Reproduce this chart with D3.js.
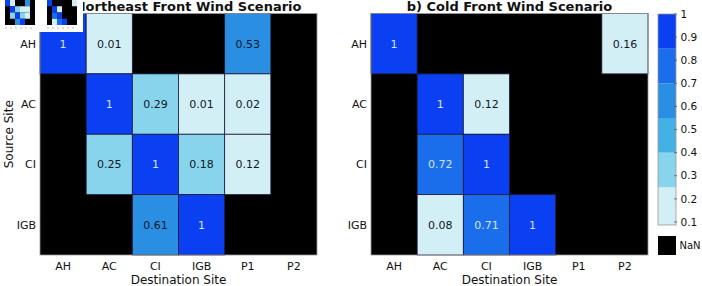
<!DOCTYPE html>
<html>
<head>
<meta charset="utf-8">
<script src="https://cdn.jsdelivr.net/npm/d3@7"></script>
<style>
  body { margin: 0; background: #fff; }
  svg { display: block; font-family: "DejaVu Sans", sans-serif; }
</style>
</head>
<body>
<svg width="702" height="286"></svg>
<script>
// destination sites (columns) and source sites (rows)
const destSites = ["AH", "AC", "CI", "IGB", "P1", "P2"];
const sourceSites = ["AH", "AC", "CI", "IGB"];

// a) Northeast front, null = NaN
const northeast = [
    [1, 0.01, null, null, 0.53, null],
    [null, 1, 0.29, 0.01, 0.02, null],
    [null, 0.25, 1, 0.18, 0.12, null],
    [null, null, 0.61, 1, null, null]
];

// b) Cold front
const coldFront = [
    [1, null, null, null, null, 0.16],
    [null, 1, 0.12, null, null, null],
    [null, 0.72, 1, null, null, null],
    [null, 0.08, 0.71, 1, null, null]
];

// colour bands
const bandColors = ["#d3eff6", "#88d4ed", "#44b1e4", "#2a8ee2", "#1a6deb", "#0b3ff2"];
const cellThresholds = [0.17, 0.4, 0.5, 0.7, 0.85];
const barEdges = [0.087, 0.25, 0.4, 0.55, 0.7, 0.85, 1];
const barTicks = [0.1, 0.2, 0.3, 0.4, 0.5, 0.6, 0.7, 0.8, 0.9, 1];

const svg = d3.select("svg");
const color = d3.scaleThreshold().domain(cellThresholds).range(bandColors);

const plotTop = 13.5, plotBottom = 255;
const y = d3.scaleBand().domain(sourceSites).range([plotTop, plotBottom]);

function drawPanel(data, x0, x1, title, showYLabel) {
    const x = d3.scaleBand().domain(destSites).range([x0, x1]);
    const g = svg.append("g");

    // black background = NaN
    g.append("rect")
        .attr("x", x0).attr("y", plotTop)
        .attr("width", x1 - x0).attr("height", plotBottom - plotTop)
        .attr("fill", "#000");

    const cells = [];
    data.forEach((row, i) => row.forEach((v, j) => {
        if (v !== null) cells.push({ src: sourceSites[i], dst: destSites[j], v: v });
    }));

    g.selectAll(".cell").data(cells).enter().append("rect")
        .attr("class", "cell")
        .attr("x", d => x(d.dst)).attr("y", d => y(d.src))
        .attr("width", x.bandwidth()).attr("height", y.bandwidth())
        .attr("fill", d => color(d.v))
        .attr("stroke", "#1c1c3a").attr("stroke-width", 0.8);

    g.selectAll(".val").data(cells).enter().append("text")
        .attr("x", d => x(d.dst) + x.bandwidth() / 2)
        .attr("y", d => y(d.src) + y.bandwidth() / 2)
        .attr("dy", "0.35em")
        .attr("text-anchor", "middle")
        .attr("font-size", 11)
        .attr("fill", d => d.v > 0.65 ? "#d4e2ff" : "#111827")
        .text(d => d.v);

    // frame
    g.append("rect")
        .attr("x", x0).attr("y", plotTop)
        .attr("width", x1 - x0).attr("height", plotBottom - plotTop)
        .attr("fill", "none").attr("stroke", "#999").attr("stroke-width", 0.8);

    // tick labels
    g.selectAll(".xt").data(destSites).enter().append("text")
        .attr("x", d => x(d) + x.bandwidth() / 2).attr("y", 266)
        .attr("dy", "0.35em").attr("text-anchor", "middle")
        .attr("font-size", 11).attr("fill", "#111").text(d => d);

    g.selectAll(".yt").data(sourceSites).enter().append("text")
        .attr("x", x0 - 4).attr("y", d => y(d) + y.bandwidth() / 2)
        .attr("dy", "0.35em").attr("text-anchor", "end")
        .attr("font-size", 11).attr("fill", "#111").text(d => d);

    g.append("text")
        .attr("x", (x0 + x1) / 2).attr("y", 280)
        .attr("dy", "0.35em").attr("text-anchor", "middle")
        .attr("font-size", 12).attr("fill", "#111").text("Destination Site");

    if (showYLabel) {
        g.append("text")
            .attr("transform", `translate(9, ${(plotTop + plotBottom) / 2}) rotate(-90)`)
            .attr("dy", "0.35em").attr("text-anchor", "middle")
            .attr("font-size", 12).attr("fill", "#111").text("Source Site");
    }

    g.append("text")
        .attr("x", (x0 + x1) / 2).attr("y", 11)
        .attr("text-anchor", "middle")
        .attr("font-size", 13).attr("font-weight", "bold")
        .attr("fill", "#111").text(title);
}

drawPanel(northeast, 40, 317, "a) Northeast Front Wind Scenario", true);
drawPanel(coldFront, 371, 648, "b) Cold Front Wind Scenario", false);

// colour bar
const cb = svg.append("g");
const cbX = 658, cbW = 18;
const cbY = d3.scaleLinear().domain([0.1, 1]).range([222, 14]);

const bands = d3.pairs(barEdges).map((p, i) => ({ lo: p[0], hi: p[1], c: bandColors[i] }));
cb.selectAll(".band").data(bands).enter().append("rect")
    .attr("x", cbX).attr("y", d => cbY(d.hi))
    .attr("width", cbW).attr("height", d => cbY(d.lo) - cbY(d.hi))
    .attr("fill", d => d.c);
cb.append("rect")
    .attr("x", cbX).attr("y", cbY(1))
    .attr("width", cbW).attr("height", cbY(barEdges[0]) - cbY(1))
    .attr("fill", "none").attr("stroke", "#999").attr("stroke-width", 0.8);

cb.selectAll(".tk").data(barTicks).enter().append("line")
    .attr("x1", cbX + cbW - 2).attr("x2", cbX + cbW + 1)
    .attr("y1", d => cbY(d)).attr("y2", d => cbY(d))
    .attr("stroke", "#555").attr("stroke-width", 0.8);
cb.selectAll(".tl").data(barTicks).enter().append("text")
    .attr("x", 680.5).attr("y", d => cbY(d))
    .attr("dy", "0.35em").attr("font-size", 10.5).attr("fill", "#111")
    .text(d => d);

// NaN swatch
cb.append("rect").attr("x", cbX).attr("y", 236).attr("width", cbW).attr("height", 19).attr("fill", "#000");
cb.append("text").attr("x", 679.5).attr("y", 245.5).attr("dy", "0.35em")
    .attr("font-size", 10).attr("fill", "#111").text("NaN");

// small thumbnail copies sitting over the top-left corner
const thumbs = svg.append("g");
thumbs.append("rect").attr("x", 0).attr("y", 0).attr("width", 83).attr("height", 32).attr("fill", "#fff");
[[northeast, 5], [coldFront, 47]].forEach(([data, tx]) => {
    const tX = d3.scaleBand().domain(destSites).range([tx, tx + 30]);
    const tY = d3.scaleBand().domain(sourceSites).range([0, 25]);
    thumbs.append("rect").attr("x", tx).attr("y", 0).attr("width", 30).attr("height", 25).attr("fill", "#000");
    const cells = [];
    data.forEach((row, i) => row.forEach((v, j) => {
        if (v !== null) cells.push({ src: sourceSites[i], dst: destSites[j], v: v });
    }));
    thumbs.selectAll(null).data(cells).enter().append("rect")
        .attr("x", d => tX(d.dst)).attr("y", d => tY(d.src))
        .attr("width", tX.bandwidth()).attr("height", tY.bandwidth())
        .attr("fill", d => color(d.v));
    thumbs.append("line").attr("x1", tx).attr("x2", tx + 30).attr("y1", 28).attr("y2", 28)
        .attr("stroke", "#bbb").attr("stroke-width", 1).attr("stroke-dasharray", "2,3");
});
</script>
</body>
</html>
